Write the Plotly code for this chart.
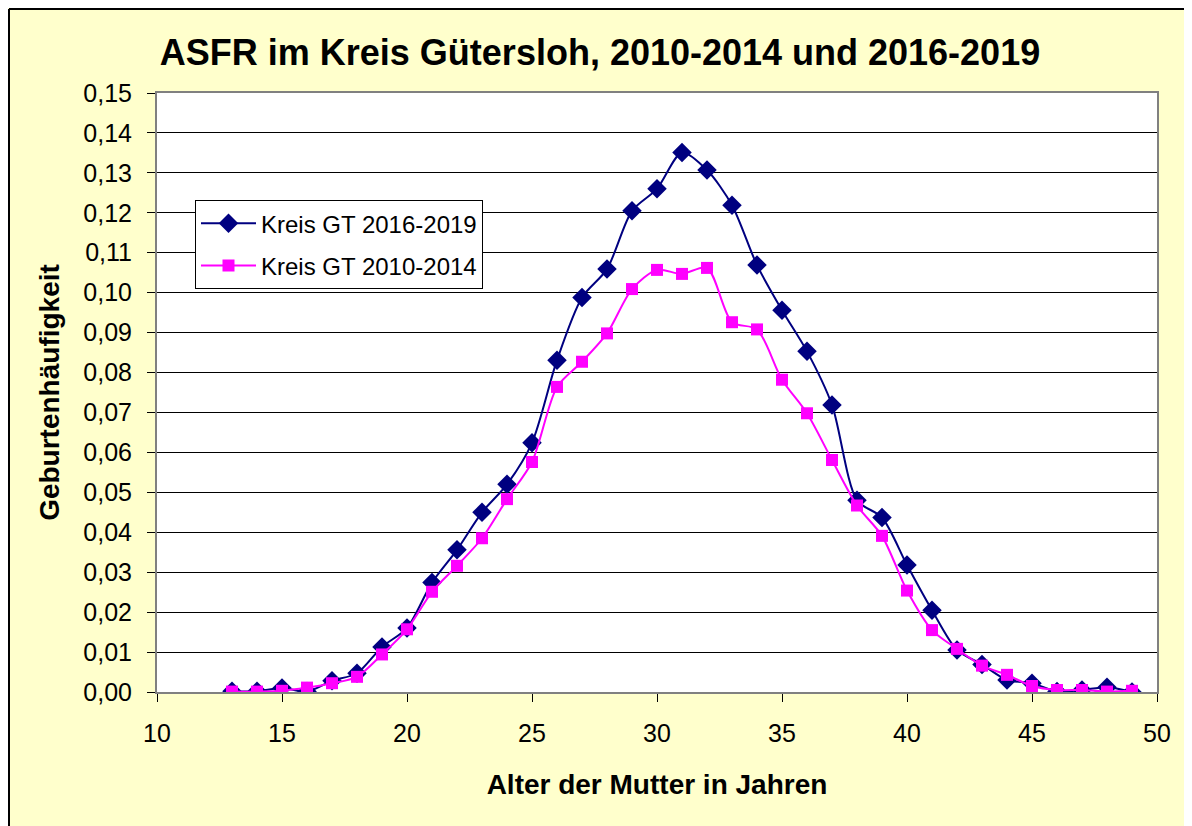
import plotly.graph_objects as go

ages = list(range(13, 50))
gt_2016_2019 = [0.0002, 0.0002, 0.0010, 0.0001, 0.0028, 0.0047, 0.0113, 0.0160, 0.0274, 0.0356,
                0.0450, 0.0520, 0.0624, 0.0831, 0.0988, 0.1059, 0.1205, 0.1260, 0.1351, 0.1307,
                0.1219, 0.1069, 0.0956, 0.0853, 0.0719, 0.0480, 0.0437, 0.0318, 0.0205, 0.0105,
                0.0069, 0.0030, 0.0022, 0.0001, 0.0005, 0.0012, 0.0000]
gt_2010_2014 = [0.0001, 0.0001, 0.0003, 0.0011, 0.0022, 0.0038, 0.0094, 0.0157, 0.0251, 0.0316,
                0.0385, 0.0483, 0.0576, 0.0764, 0.0827, 0.0898, 0.1009, 0.1057, 0.1047, 0.1062,
                0.0926, 0.0908, 0.0782, 0.0698, 0.0581, 0.0467, 0.0391, 0.0254, 0.0155, 0.0108,
                0.0066, 0.0043, 0.0015, 0.0005, 0.0005, 0.0001, 0.0003]

y_ticks = [i / 100 for i in range(0, 16)]
x_ticks = [10, 15, 20, 25, 30, 35, 40, 45, 50]

FONT = "Liberation Sans, Arial, sans-serif"

fig = go.Figure()
fig.add_trace(go.Scatter(
    x=ages, y=gt_2016_2019, name="Kreis GT 2016-2019", mode="lines+markers",
    line=dict(color="#000080", width=2, shape="spline", smoothing=0.8),
    marker=dict(symbol="diamond", size=15, color="#000080"),
    legendgroup="a",
))
fig.add_trace(go.Scatter(
    x=ages, y=gt_2010_2014, name="Kreis GT 2010-2014", mode="lines+markers",
    line=dict(color="#FF00FF", width=2, shape="spline", smoothing=0.8),
    marker=dict(symbol="square", size=12, color="#FF00FF"),
    legendgroup="b",
))

fig.update_layout(
    width=1184, height=818,
    margin=dict(l=149, r=35, t=85, b=134),
    paper_bgcolor="#FFFFCC", plot_bgcolor="white",
    separators=",.",
    font=dict(family=FONT, size=25, color="black"),
    title=dict(text="<b>ASFR im Kreis Gütersloh, 2010-2014 und 2016-2019</b>",
               x=0.5, xanchor="center", y=0.946, yanchor="middle",
               font=dict(family=FONT, size=36, color="black")),
    showlegend=True,
    legend=dict(x=0.038, y=0.821, xanchor="left", yanchor="top",
                bgcolor="white", bordercolor="black", borderwidth=1,
                font=dict(family=FONT, size=24, color="black"),
                tracegroupgap=8, traceorder="grouped", itemwidth=55),
    xaxis=dict(range=[10, 50], tickvals=x_ticks, showgrid=False, zeroline=False,
               ticks="outside", ticklen=8, tickcolor="black", ticklabelstandoff=10,
               showline=True, linecolor="#808080", linewidth=2, mirror=True,
               tickfont=dict(size=25),
               title=dict(text="<b>Alter der Mutter in Jahren</b>", font=dict(size=28), standoff=28)),
    yaxis=dict(range=[0, 0.15], tickvals=y_ticks, tickformat=".2f",
               showgrid=True, gridcolor="black", gridwidth=1, zeroline=False,
               ticks="outside", ticklen=8, tickcolor="black", ticklabelstandoff=10,
               showline=True, linecolor="#808080", linewidth=2, mirror=True,
               tickfont=dict(size=25),
               title=dict(text="<b>Geburtenhäufigkeit</b>", font=dict(size=28), standoff=16)),
)

# outer chart border (top and left edges)
fig.add_shape(type="line", xref="paper", yref="paper",
              x0=(9 - 157) / 1000, x1=1.05, y0=(692 - 9) / 599, y1=(692 - 9) / 599,
              line=dict(color="black", width=2))
fig.add_shape(type="line", xref="paper", yref="paper",
              x0=(9 - 157) / 1000, x1=(9 - 157) / 1000, y0=(692 - 9) / 599, y1=-0.3,
              line=dict(color="black", width=2))

fig.write_html("out.html")
